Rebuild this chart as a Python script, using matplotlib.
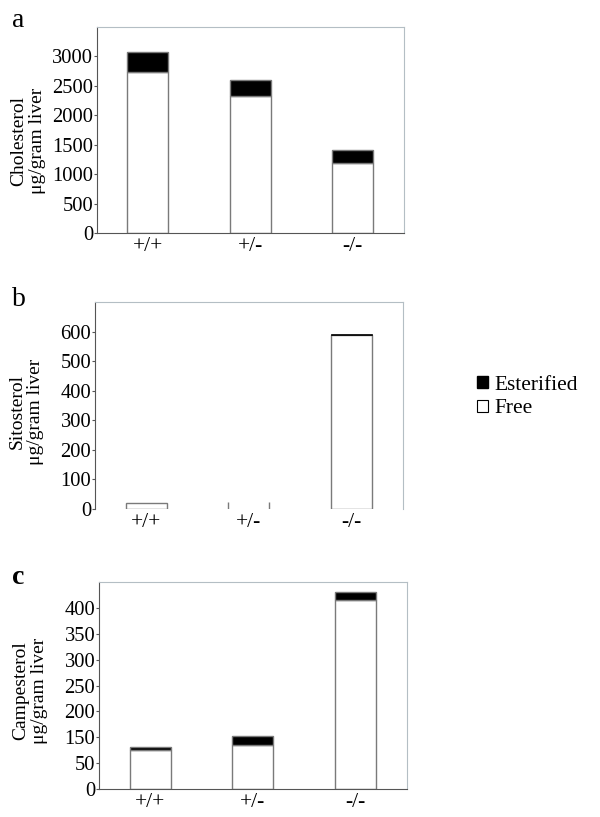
#!/usr/bin/python3
'''Free and esterified sterols in liver, by genotype (three stacked bar panels).'''

import matplotlib
matplotlib.use('Agg')
import matplotlib.pyplot as plt
from matplotlib.patches import Patch

plt.rcParams['font.family'] = ['Liberation Serif', 'DejaVu Serif']

genotypes = ['+/+', '+/-', '-/-']

# values in µg/gram liver
chol_free = [2730, 2325, 1185]
chol_ester = [335, 265, 215]

sito_free = [19, 25, 589]
sito_ester = [0, 0, 5]

# panel c: the printed axis labels skip "100", values are given in axis position units
camp_free = [76, 85, 366]
camp_ester = [5, 18, 15]
camp_ticks = [0, 50, 100, 150, 200, 250, 300, 350]
camp_ticklabels = ['0', '50', '150', '200', '250', '300', '350', '400']

EDGE = '#7a7a7a'
DARK = '#555555'
LIGHT = '#b4bec4'
FS = 14


def style(ax, ylim, ylab, label_y, bottom=True):
    ax.set_xlim(-0.5, 2.5)
    ax.set_ylim(*ylim)
    ax.set_xticks(range(3))
    ax.set_xticklabels(genotypes, fontsize=15.5)
    ax.tick_params(axis='x', length=0, pad=3)
    ax.tick_params(axis='y', length=2, width=0.8, color=DARK, pad=0.5, labelsize=14.8)
    ax.spines['left'].set_color(DARK)
    ax.spines['bottom'].set_color(DARK)
    ax.spines['top'].set_color(LIGHT)
    ax.spines['right'].set_color(LIGHT)
    ax.spines['bottom'].set_visible(bottom)
    ax.set_ylabel(ylab, fontsize=FS, linespacing=1.1, multialignment='center')
    ax.yaxis.set_label_coords(-0.165, label_y)


def stacked(ax, free, ester):
    x = range(len(free))
    ax.bar(x, free, width=0.4, color='white', edgecolor=EDGE, linewidth=1)
    ax.bar(x, ester, bottom=free, width=0.4, color='black', edgecolor=EDGE, linewidth=1)


fig = plt.figure(figsize=(6, 8.17), dpi=100)

ax_a = fig.add_axes([0.161, 0.7148, 0.512, 0.2525])
stacked(ax_a, chol_free, chol_ester)
ax_a.set_yticks(range(0, 3001, 500))
style(ax_a, (0, 3500), 'Cholesterol\nμg/gram liver', 0.446)

ax_b = fig.add_axes([0.158, 0.377, 0.513, 0.253])
# +/- bar shows only its side edges in the original
ax_b.bar([0, 2], [sito_free[0], sito_free[2]], width=0.4, color='white',
         edgecolor=EDGE, linewidth=1)
ax_b.bar([2], [sito_ester[2]], bottom=[sito_free[2]], width=0.4, color='black',
         edgecolor='black', linewidth=0.5)
ax_b.vlines([1 - 0.2, 1 + 0.2], 0, sito_free[1], color=EDGE, linewidth=1)
ax_b.set_yticks(range(0, 601, 100))
style(ax_b, (0, 700), 'Sitosterol\nμg/gram liver', 0.47, bottom=False)

ax_c = fig.add_axes([0.1645, 0.0343, 0.514, 0.253])
stacked(ax_c, camp_free, camp_ester)
ax_c.set_yticks(camp_ticks)
ax_c.set_yticklabels(camp_ticklabels)
style(ax_c, (0, 400), 'Campesterol\nμg/gram liver', 0.474)

fig.text(0.02, 0.967, 'a', fontsize=20)
fig.text(0.02, 0.625, 'b', fontsize=20)
fig.text(0.02, 0.285, 'c', fontsize=20, fontweight='bold')

handles = [Patch(facecolor='black', edgecolor='black'),
           Patch(facecolor='white', edgecolor='black', linewidth=0.8)]
fig.legend(handles, ['Esterified', 'Free'], loc='center left',
           bbox_to_anchor=(0.795, 0.514), frameon=False, fontsize=15.4,
           handlelength=0.5, handleheight=0.5, handletextpad=0.3,
           borderpad=0, borderaxespad=0, labelspacing=0.2)

fig.savefig('out.png', dpi=100)
plt.close(fig)
